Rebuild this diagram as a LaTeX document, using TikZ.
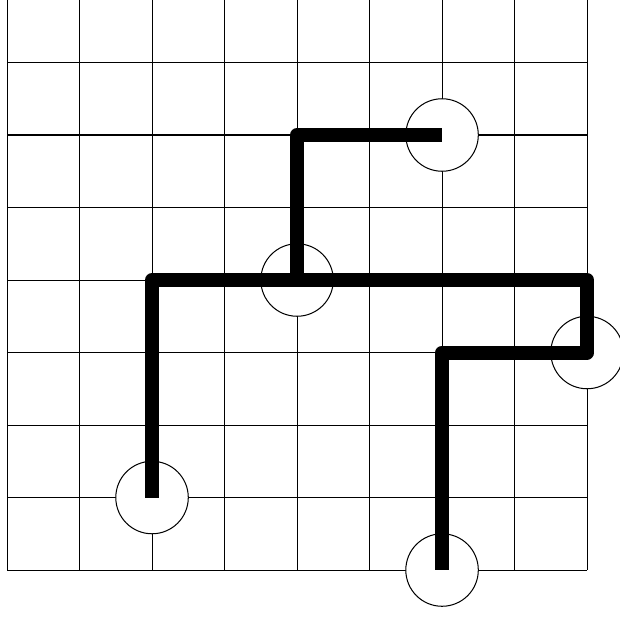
\documentclass[tikz,border=0pt]{standalone}
\usepackage{tikz}
\tikzset{
  stone/.style={circle, draw=black, fill=white, minimum size=1cm, inner sep=0pt, line width=0.4pt},
  wire/.style={line width=5.5pt, draw=black, line join=round},
  gridline/.style={line width=0.4pt, draw=black},
}

\begin{document}
\begin{tikzpicture}
  \useasboundingbox (-0.097,-0.703) rectangle (8.441,7.862);
  % ------------------------------------------------ the board
  \draw[gridline] (0,0) grid (8,8);

  % ------------------------------------------------ the stones
  \node[stone] (s1) at (6,6) {};
  \node[stone] (s2) at (4,4) {};
  \node[stone] (s3) at (8,3) {};
  \node[stone] (s4) at (2,1) {};
  \node[stone] (s5) at (6,0) {};
  \coordinate (k) at (8,4);

  % ------------------------------------------------ the wires
  \draw[wire] (s4.center) |- (k) -- (s3.center) -| (s5.center);
  \draw[wire] (s2.center) |- (s1.center);
\end{tikzpicture}
\end{document}
